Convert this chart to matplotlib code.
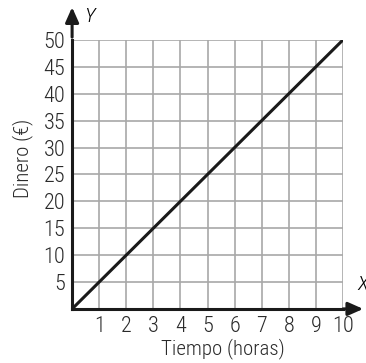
import matplotlib.pyplot as plt
from matplotlib import font_manager

names = {f.name for f in font_manager.fontManager.ttflist}
fam = "DejaVu Sans"
for cand in ["Roboto Condensed", "Archivo Narrow", "PT Sans Narrow", "Liberation Sans Narrow"]:
    if cand in names:
        fam = cand
        break
plt.rcParams['font.family'] = [fam, 'DejaVu Sans']
plt.rcParams['font.weight'] = 'light'
plt.rcParams['axes.labelweight'] = 'light'

horas = [0, 10]
dinero = [0, 50]
xticks = [1, 2, 3, 4, 5, 6, 7, 8, 9, 10]
yticks = [5, 10, 15, 20, 25, 30, 35, 40, 45, 50]

fig = plt.figure(figsize=(3.66, 3.63), dpi=100)
ax = fig.add_axes([0.197, 0.149, 0.740, 0.741])

ax.set_xlim(0, 10)
ax.set_ylim(0, 50)
ax.set_xticks(range(0, 11))
ax.set_yticks(range(0, 51, 5))
ax.grid(True, color="#a8a8a8", lw=1.2)
ax.set_axisbelow(True)
ax.set_xticklabels([""] + [str(t) for t in xticks])
ax.set_yticklabels([""] + [str(t) for t in yticks])
ax.tick_params(length=0, labelsize=16, colors="#2a2a2a")
ax.tick_params(axis="x", pad=5)
ax.tick_params(axis="y", pad=5)

for s in ["top", "right"]:
    ax.spines[s].set_visible(False)
for s in ["left", "bottom"]:
    ax.spines[s].set_linewidth(2.2)
    ax.spines[s].set_color("#1a1a1a")

ax.plot(horas, dinero, color="#1a1a1a", lw=2.2, solid_capstyle="butt")

# arrows on the axes
ax.annotate("", xy=(10.85, 0), xytext=(9.9, 0),
            arrowprops=dict(arrowstyle="-|>,head_length=0.9,head_width=0.4", color="#1a1a1a", lw=2.2),
            annotation_clip=False)
ax.annotate("", xy=(0, 56.6), xytext=(0, 50),
            arrowprops=dict(arrowstyle="-|>,head_length=0.9,head_width=0.4", color="#1a1a1a", lw=2.2),
            annotation_clip=False)
ax.text(0.63, 54.3, "Y", fontsize=15, style="italic", ha="center", va="center", clip_on=False)
ax.text(10.72, 4.5, "X", fontsize=15, style="italic", ha="center", va="center", clip_on=False)

ax.set_xlabel("Tiempo (horas)", fontsize=15, color="#2a2a2a")
ax.set_ylabel("Dinero (€)", fontsize=15, color="#2a2a2a")
ax.xaxis.set_label_coords(0.557, -0.110)
ax.yaxis.set_label_coords(-0.145, 0.558)

fig.savefig("out.png", dpi=100)
